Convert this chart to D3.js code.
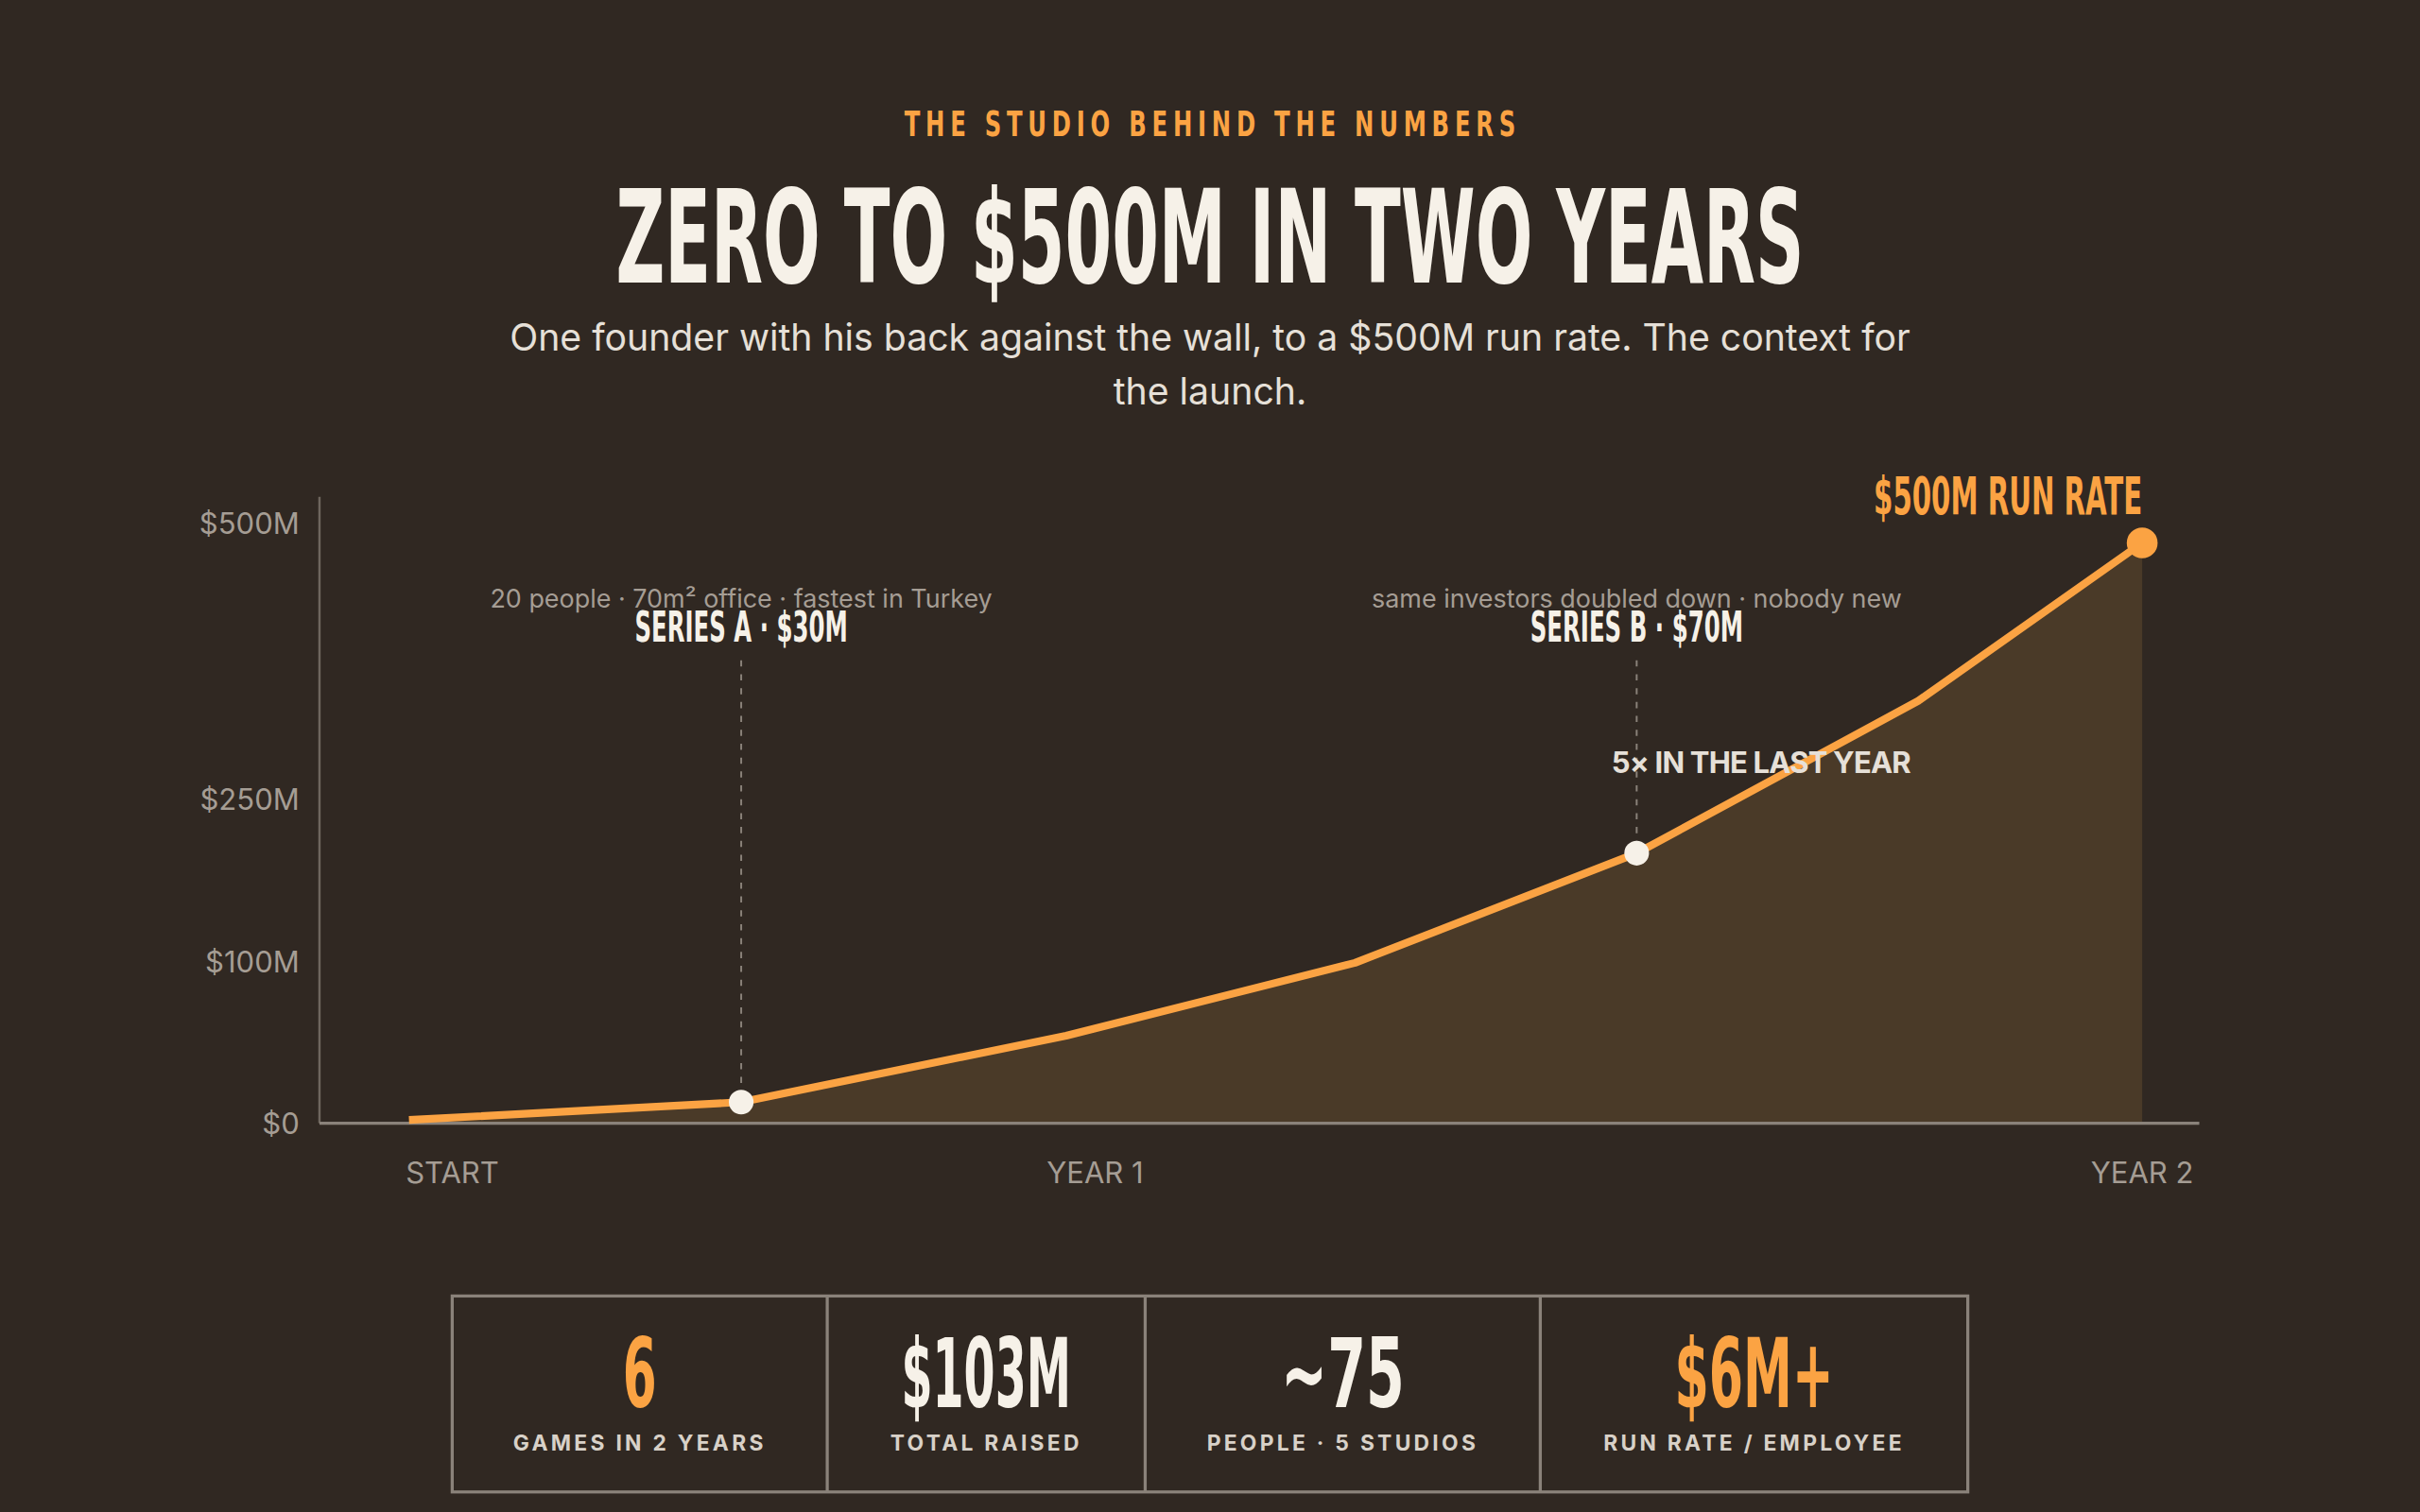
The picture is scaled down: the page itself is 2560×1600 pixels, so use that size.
<!DOCTYPE html>
<html><head><meta charset="utf-8">
<script src="https://cdn.jsdelivr.net/npm/d3@7"></script>
<style>
html,body{margin:0;padding:0;background:#302822;}
svg{display:block;}
.cond{font-family:"Liberation Sans Narrow","DejaVu Sans Condensed",sans-serif;font-weight:700;}
.body{font-family:Inter,"Noto Sans",sans-serif;}
</style></head><body>
<script>
const months = [0, 4.6, 9.1, 13.1, 17, 20.9, 24];
const revenue = [2, 13, 54, 99, 200, 339, 482];
const yTicks = [0, 100, 250, 500];
const yTickLabels = ["$0", "$100M", "$250M", "$500M"];
const xTicks = [0.6, 9.5, 24];
const xTickLabels = ["START", "YEAR 1", "YEAR 2"];
const events = [
  {i:1, title:"SERIES A · $30M", note:"20 people · 70m² office · fastest in Turkey"},
  {i:4, title:"SERIES B · $70M", note:"same investors doubled down · nobody new"}
];
const statValues = ["6", "$103M", "~75", "$6M+"];
const statWidths = [22, 110, 80, 103];
const statLabels = ["GAMES IN 2 YEARS", "TOTAL RAISED", "PEOPLE · 5 STUDIOS", "RUN RATE / EMPLOYEE"];
const statOrange = [true, false, false, true];

const orange="#fba343", cream="#f6f1e8", grey="#a59d94";
const svg=d3.select("body").append("svg").attr("width",2560).attr("height",1600).attr("viewBox","0 0 1568 980");
svg.append("rect").attr("width",1568).attr("height",980).attr("fill","#302822");

// header
svg.append("g").attr("transform","translate(784,88) scale(0.72,1)").append("text").attr("class","cond").attr("x",0).attr("y",0).attr("text-anchor","middle")
  .attr("fill",orange).attr("font-size",23).attr("textLength",550).attr("lengthAdjust","spacing").text("THE STUDIO BEHIND THE NUMBERS");
svg.append("text").attr("class","cond").attr("x",784).attr("y",183).attr("text-anchor","middle")
  .attr("fill",cream).attr("font-size",84).attr("textLength",770).attr("lengthAdjust","spacingAndGlyphs").text("ZERO TO $500M IN TWO YEARS");
svg.append("text").attr("class","body").attr("x",784).attr("y",227).attr("text-anchor","middle")
  .attr("fill","#e6e0d8").attr("font-size",24).text("One founder with his back against the wall, to a $500M run rate. The context for");
svg.append("text").attr("class","body").attr("x",784).attr("y",262).attr("text-anchor","middle")
  .attr("fill","#e6e0d8").attr("font-size",24).text("the launch.");

// scales
const x=d3.scaleLinear().domain([0,24]).range([265,1388]);
const y=d3.scaleLinear().domain([0,100,250,500]).range([728,623,518,339]);
const data=months.map((m,i)=>({m,v:revenue[i]}));

// axes
svg.append("line").attr("x1",207).attr("x2",207).attr("y1",322).attr("y2",728).attr("stroke","#6e665e").attr("stroke-width",1.5);
yTicks.forEach((t,i)=>svg.append("text").attr("class","body").attr("x",194).attr("y",y(t)+7).attr("text-anchor","end")
  .attr("fill",grey).attr("font-size",19).text(yTickLabels[i]));

svg.append("path").datum(data).attr("fill","#4a3a28")
  .attr("d",d3.area().x(d=>x(d.m)).y0(y(0)).y1(d=>y(d.v)));
svg.append("line").attr("x1",207).attr("x2",1425).attr("y1",728).attr("y2",728).attr("stroke","#8a827a").attr("stroke-width",2);
xTicks.forEach((t,i)=>svg.append("text").attr("class","body").attr("x",x(t)).attr("y",767).attr("text-anchor","middle")
  .attr("fill",grey).attr("font-size",19).text(xTickLabels[i]));

// events
events.forEach(e=>{
  const d=data[e.i], px=x(d.m), py=y(d.v);
  svg.append("line").attr("x1",px).attr("x2",px).attr("y1",428).attr("y2",py).attr("stroke","#8a827a").attr("stroke-width",1.2).attr("stroke-dasharray","4,5");
  svg.append("text").attr("class","body").attr("x",px).attr("y",394).attr("text-anchor","middle").attr("fill",grey).attr("font-size",16.5).text(e.note);
  svg.append("text").attr("class","cond").attr("x",px).attr("y",416).attr("text-anchor","middle").attr("fill",cream).attr("font-size",27).attr("textLength",138).attr("lengthAdjust","spacingAndGlyphs").text(e.title);
});

svg.append("path").datum(data).attr("fill","none").attr("stroke",orange).attr("stroke-width",5).attr("stroke-linejoin","round")
  .attr("d",d3.line().x(d=>x(d.m)).y(d=>y(d.v)));
events.forEach(e=>{const d=data[e.i];
  svg.append("circle").attr("cx",x(d.m)).attr("cy",y(d.v)).attr("r",8).attr("fill",cream);});
const last=data[data.length-1];
svg.append("circle").attr("cx",x(last.m)).attr("cy",y(last.v)).attr("r",10).attr("fill",orange);
svg.append("text").attr("class","cond").attr("x",x(last.m)).attr("y",333).attr("text-anchor","end").attr("fill",orange)
  .attr("font-size",34).attr("textLength",174).attr("lengthAdjust","spacingAndGlyphs").text("$500M RUN RATE");
svg.append("text").attr("class","body").attr("x",1141).attr("y",501).attr("text-anchor","middle").attr("fill","#e6e0d8")
  .attr("font-size",19).attr("font-weight",700).attr("letter-spacing",-0.5).text("5× IN THE LAST YEAR");

// stats
const edges=[293,536,742,998,1275];
svg.append("rect").attr("x",293).attr("y",840).attr("width",982).attr("height",127).attr("fill","none").attr("stroke","#8a827a").attr("stroke-width",2);
edges.slice(1,4).forEach(e=>svg.append("line").attr("x1",e).attr("x2",e).attr("y1",840).attr("y2",967).attr("stroke","#8a827a").attr("stroke-width",2));
statValues.forEach((v,i)=>{
  const cx=(edges[i]+edges[i+1])/2;
  svg.append("text").attr("class","cond").attr("x",cx).attr("y",912).attr("text-anchor","middle")
    .attr("fill",statOrange[i]?orange:cream).attr("font-size",62).attr("textLength",statWidths[i]).attr("lengthAdjust","spacingAndGlyphs").text(v);
  svg.append("text").attr("class","body").attr("x",cx).attr("y",940).attr("text-anchor","middle")
    .attr("fill","#d8d1c8").attr("font-size",14).attr("font-weight",700).attr("letter-spacing",2).text(statLabels[i]);
});
</script>
</body></html>
